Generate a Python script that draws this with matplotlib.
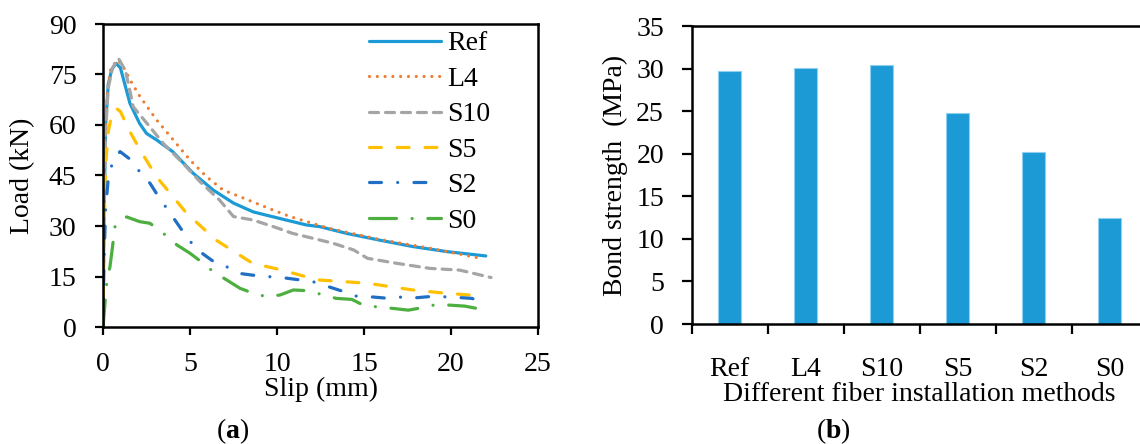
import numpy as np
import matplotlib
matplotlib.use('Agg')
import matplotlib.pyplot as plt
from matplotlib.ticker import MultipleLocator, FixedLocator

plt.rcParams['font.family'] = ['Liberation Serif', 'DejaVu Serif']
plt.rcParams['mathtext.fontset'] = 'custom'
plt.rcParams['mathtext.rm'] = 'Liberation Serif'
plt.rcParams['mathtext.bf'] = 'Liberation Serif:bold'
plt.rcParams['lines.scale_dashes'] = False

# (a) load-slip curves
ref_x = [0, 0.05, 0.15, 0.3, 0.5, 0.75, 1.0, 1.55, 2.1, 2.5, 3.1, 4.0, 5.17, 6.33, 7.5, 8.63, 9.4, 10.5, 11.7, 12.47, 14.0, 15.9, 17.8, 19.75, 22.0]
ref_y = [0, 30, 60, 72, 76.5, 78.3, 77, 66.4, 60.5, 57.5, 55.5, 52.1, 45.7, 40.7, 36.8, 34.2, 33.2, 31.8, 30.3, 29.8, 27.8, 25.8, 23.9, 22.4, 21.1]

l4_x = [0, 0.05, 0.12, 0.25, 0.45, 0.85, 1.2, 1.6, 2.13, 3.08, 4.05, 5.0, 5.96, 6.9, 7.87, 8.83, 9.79, 10.75, 13.0, 15.9, 18.8, 21.8]
l4_y = [0, 35, 58, 70, 77, 79.3, 77, 73, 68.4, 61.5, 55.5, 49.6, 44.6, 40.7, 38.7, 36.7, 34.7, 32.8, 29.3, 26.0, 23.4, 20.3]

s10_x = [0, 0.05, 0.15, 0.3, 0.55, 0.9, 1.3, 1.74, 2.7, 3.47, 4.6, 5.57, 6.7, 7.5, 8.6, 9.8, 10.9, 12.1, 13.2, 14.4, 15.2, 16.9, 18.8, 20.5, 22.3]
s10_y = [0, 28, 58, 71, 77, 79.7, 76, 65.4, 59.4, 54.5, 48.6, 43.2, 37.7, 32.8, 31.8, 29.8, 27.8, 26.3, 24.9, 22.9, 20.4, 18.9, 17.4, 16.9, 14.7]

s5_x = [0, 0.05, 0.15, 0.3, 0.5, 0.75, 1.0, 1.55, 2.13, 3.08, 4.8, 6.5, 8.6, 10.3, 12.3, 15.2, 17.8, 19.75, 21.9]
s5_y = [0, 25, 48, 58, 63, 65, 64, 58, 52.6, 44.6, 33.8, 25.8, 18.9, 16.9, 14.0, 13.0, 11.0, 10.0, 9.2]

s2_x = [0, 0.05, 0.15, 0.3, 0.6, 0.98, 1.74, 2.1, 2.7, 3.28, 3.7, 4.6, 5.3, 5.8, 6.5, 7.1, 7.87, 8.6, 9.4, 10.4, 11.3, 12.1, 13.0, 13.9, 14.5, 15.3, 16.2, 17.0, 17.8, 18.7, 19.5, 20.3, 21.2, 22.0]
s2_y = [0, 18, 35, 44, 50, 52.1, 49.1, 46.1, 42.7, 38.0, 35.0, 28.3, 23.5, 21.5, 18.9, 17.9, 15.9, 15.4, 15.0, 14.6, 14.0, 13.4, 11.9, 10.4, 9.2, 9.0, 8.6, 8.9, 8.6, 9.0, 9.0, 8.8, 8.5, 7.0]

s0_x = [0, 0.21, 0.4, 0.5, 0.69, 1.0, 1.36, 2.1, 2.7, 3.47, 4.24, 5.0, 5.77, 6.34, 7.1, 7.87, 8.64, 9.4, 10.17, 10.94, 11.7, 12.47, 13.4, 14.3, 14.96, 15.7, 16.7, 17.55, 18.3, 19.0, 19.9, 20.8, 21.5, 22.2]
s0_y = [0, 13, 17.9, 21.9, 29.8, 32.0, 32.7, 31.3, 30.8, 27.8, 24.4, 21.9, 18.9, 16.4, 14.0, 11.5, 10.0, 9.0, 9.5, 11.0, 10.8, 9.8, 8.5, 8.2, 6.5, 6.0, 5.5, 5.0, 5.7, 6.5, 6.5, 6.2, 5.5, 4.8]

# (b) bond strength
methods = ['Ref', 'L4', 'S10', 'S5', 'S2', 'S0']
strength = [29.7, 30.1, 30.4, 24.8, 20.2, 12.5]

blue = '#1B9AD6'
fs = 20

fig = plt.figure(figsize=(11.4, 4.44), dpi=100)

# ---- left panel
ax1 = fig.add_axes([103/1140, 1-327/444, 435/1140, 303/444])
lw = 2.3
ax1.plot(ref_x, ref_y, color=blue, lw=lw, label='Ref', solid_capstyle='round')
ax1.plot(l4_x, l4_y, color='#ED7D31', lw=lw, label='L4', linestyle=(0, (0.01, 5.6)), dash_capstyle='round')
ax1.plot(s10_x, s10_y, color='#A5A5A5', lw=lw, label='S10', linestyle=(0, (6.5, 5)), dash_capstyle='round')
ax1.plot(s5_x, s5_y, color='#FFC000', lw=lw, label='S5', linestyle=(0, (8.5, 11.5)), dash_capstyle='round')
ax1.plot(s2_x, s2_y, color='#1F6FC5', lw=lw, label='S2', linestyle=(0, (8.6, 11.7, 0.01, 11.7)), dash_capstyle='round')
ax1.plot(s0_x, s0_y, color='#4CAF3F', lw=lw, label='S0', linestyle=(0, (19.4, 11.3, 0.01, 11.3)), dash_capstyle='round')

ax1.set_xlim(0, 25)
ax1.set_ylim(0, 90)
ax1.xaxis.set_major_locator(MultipleLocator(5))
ax1.yaxis.set_major_locator(MultipleLocator(15))
ax1.tick_params(direction='out', length=6, width=1.6, labelsize=fs, colors='black')
ax1.tick_params(axis='y', pad=13)
ax1.tick_params(axis='x', pad=12)
for s in ax1.spines.values():
    s.set_linewidth(1.8)
ax1.set_xlabel('Slip (mm)', fontsize=fs, labelpad=0)
ax1.set_ylabel('Load (kN)', fontsize=fs, labelpad=10)
ax1.legend(loc='upper left', bbox_to_anchor=(369/1140, 1-31/444), bbox_transform=fig.transFigure,
           frameon=False, fontsize=fs, handlelength=2.6, handletextpad=0.22,
           labelspacing=0.36, borderpad=0, borderaxespad=0)

# ---- right panel
ax2 = fig.add_axes([691.7/1140, 1-324/444, 456/1140, 298/444])
pos = np.arange(len(methods))
ax2.bar(pos, strength, width=0.31, color=blue, edgecolor='#8FD0F0', linewidth=0.8, zorder=2)
ax2.set_xlim(-0.5, len(methods) - 0.5)
ax2.set_ylim(0, 35)
ax2.yaxis.set_major_locator(MultipleLocator(5))
ax2.set_xticks(pos)
ax2.set_xticklabels(methods)
ax2.xaxis.set_minor_locator(FixedLocator(np.arange(len(methods) + 1) - 0.5))
ax2.tick_params(axis='x', which='major', length=0, pad=24, labelsize=fs)
ax2.tick_params(axis='x', which='minor', length=7, width=1.6, direction='out')
ax2.tick_params(axis='y', length=7, width=1.6, direction='out', pad=13, labelsize=fs)
for s in ax2.spines.values():
    s.set_linewidth(1.8)
ax2.set_xlabel('Different fiber installation methods', fontsize=fs, labelpad=0)
ax2.set_ylabel('Bond strength  (MPa)', fontsize=fs, labelpad=6)

fig.text(233/1140, 1-431/444, r'($\mathbf{a}$)', fontsize=fs, ha='center', va='center')
fig.text(833/1140, 1-431/444, r'($\mathbf{b}$)', fontsize=fs, ha='center', va='center')

fig.savefig('out.png', dpi=100)
